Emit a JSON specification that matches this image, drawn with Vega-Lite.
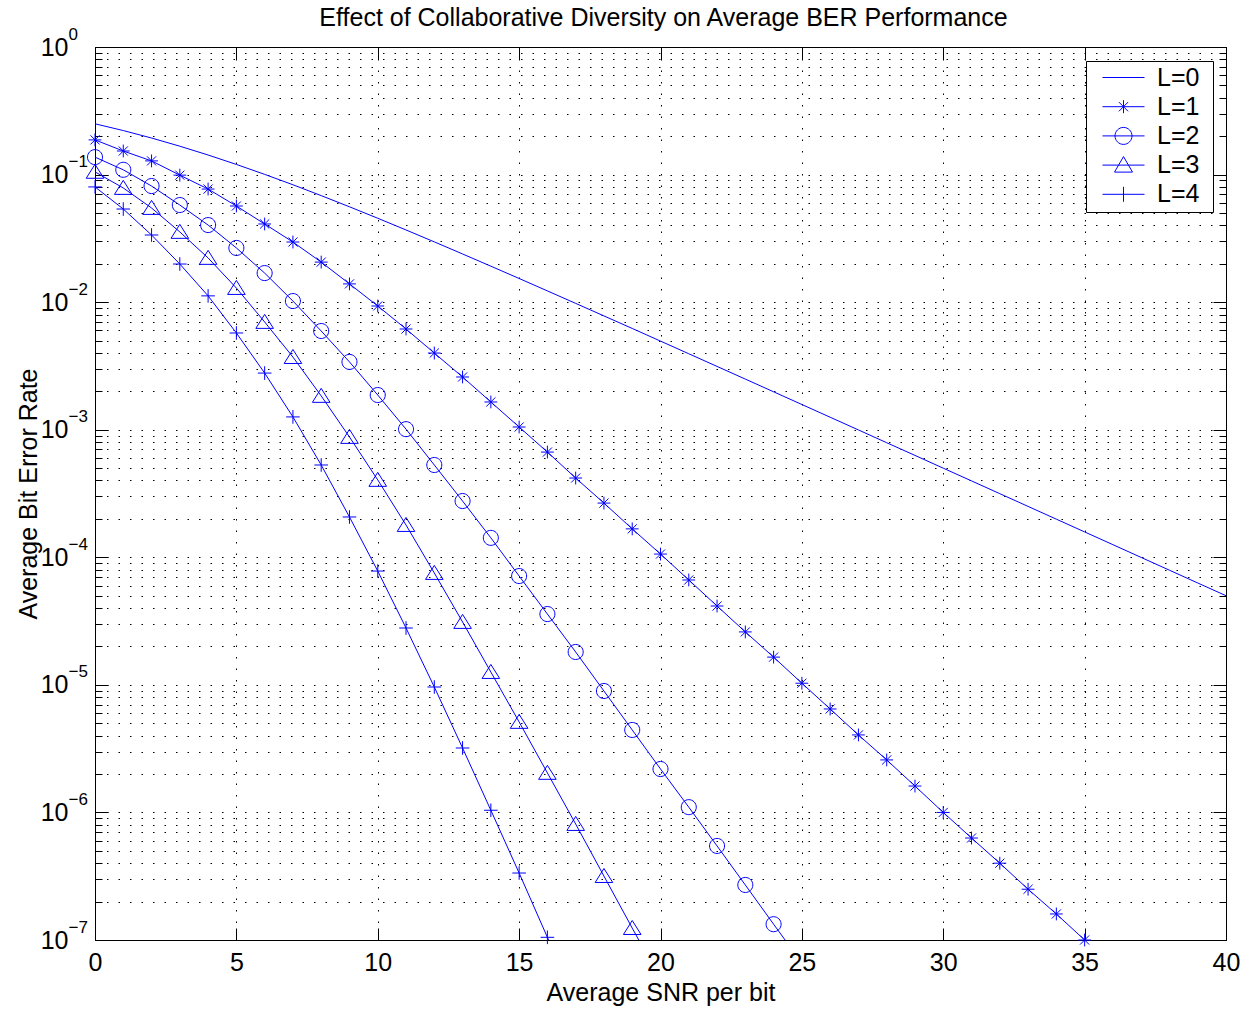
{
  "$schema": "https://vega.github.io/schema/vega-lite/v6.json",
  "width": 1131,
  "height": 893,
  "autosize": {"type": "none"},
  "padding": {"left": 95, "top": 47, "right": 28, "bottom": 69},
  "background": "white",
  "title": {
    "text": "Effect of Collaborative Diversity on Average BER Performance",
    "font": "Liberation Sans",
    "fontSize": 25,
    "fontWeight": "normal",
    "color": "black",
    "frame": "group",
    "offset": -6,
    "dx": 3
  },
  "config": {
    "view": {"stroke": "black", "strokeWidth": 1},
    "axis": {
      "domainColor": "black",
      "domainWidth": 1,
      "tickColor": "black",
      "tickWidth": 1,
      "labelFont": "Liberation Sans",
      "labelFontSize": 25,
      "labelColor": "black",
      "titleFont": "Liberation Sans",
      "titleFontSize": 25,
      "titleFontWeight": "normal",
      "titleColor": "black",
      "gridColor": "black",
      "gridOpacity": 1,
      "gridWidth": 1,
      "gridDash": [1.5, 10]
    }
  },
  "data": {
    "values": [
      {"L": "L=0", "snr": 0, "ber": 0.25},
      {"L": "L=0", "snr": 1, "ber": 0.2213},
      {"L": "L=0", "snr": 2, "ber": 0.1934},
      {"L": "L=0", "snr": 3, "ber": 0.1669},
      {"L": "L=0", "snr": 4, "ber": 0.1424},
      {"L": "L=0", "snr": 5, "ber": 0.1201},
      {"L": "L=0", "snr": 6, "ber": 0.1004},
      {"L": "L=0", "snr": 7, "ber": 0.0832},
      {"L": "L=0", "snr": 8, "ber": 0.0684},
      {"L": "L=0", "snr": 9, "ber": 0.0559},
      {"L": "L=0", "snr": 10, "ber": 0.04545},
      {"L": "L=0", "snr": 11, "ber": 0.0368},
      {"L": "L=0", "snr": 12, "ber": 0.02968},
      {"L": "L=0", "snr": 13, "ber": 0.02386},
      {"L": "L=0", "snr": 14, "ber": 0.01914},
      {"L": "L=0", "snr": 15, "ber": 0.01533},
      {"L": "L=0", "snr": 16, "ber": 0.01225},
      {"L": "L=0", "snr": 17, "ber": 0.00978},
      {"L": "L=0", "snr": 18, "ber": 0.0078},
      {"L": "L=0", "snr": 19, "ber": 0.00622},
      {"L": "L=0", "snr": 20, "ber": 0.00495},
      {"L": "L=0", "snr": 21, "ber": 0.00394},
      {"L": "L=0", "snr": 22, "ber": 0.003135},
      {"L": "L=0", "snr": 23, "ber": 0.002493},
      {"L": "L=0", "snr": 24, "ber": 0.001983},
      {"L": "L=0", "snr": 25, "ber": 0.001576},
      {"L": "L=0", "snr": 26, "ber": 0.001253},
      {"L": "L=0", "snr": 27, "ber": 0.000996},
      {"L": "L=0", "snr": 28, "ber": 0.000791},
      {"L": "L=0", "snr": 29, "ber": 0.000629},
      {"L": "L=0", "snr": 30, "ber": 0.0004995},
      {"L": "L=0", "snr": 31, "ber": 0.000397},
      {"L": "L=0", "snr": 32, "ber": 0.0003153},
      {"L": "L=0", "snr": 33, "ber": 0.0002505},
      {"L": "L=0", "snr": 34, "ber": 0.000199},
      {"L": "L=0", "snr": 35, "ber": 0.0001581},
      {"L": "L=0", "snr": 36, "ber": 0.0001256},
      {"L": "L=0", "snr": 37, "ber": 0.0000997},
      {"L": "L=0", "snr": 38, "ber": 0.0000792},
      {"L": "L=0", "snr": 39, "ber": 0.0000629},
      {"L": "L=0", "snr": 40, "ber": 0.00005},

      {"L": "L=1", "snr": 0, "ber": 0.187},
      {"L": "L=1", "snr": 1, "ber": 0.153},
      {"L": "L=1", "snr": 2, "ber": 0.128},
      {"L": "L=1", "snr": 3, "ber": 0.099},
      {"L": "L=1", "snr": 4, "ber": 0.077},
      {"L": "L=1", "snr": 5, "ber": 0.0567},
      {"L": "L=1", "snr": 6, "ber": 0.041},
      {"L": "L=1", "snr": 7, "ber": 0.0296},
      {"L": "L=1", "snr": 8, "ber": 0.0206},
      {"L": "L=1", "snr": 9, "ber": 0.0139},
      {"L": "L=1", "snr": 10, "ber": 0.00933},
      {"L": "L=1", "snr": 11, "ber": 0.00616},
      {"L": "L=1", "snr": 12, "ber": 0.00399},
      {"L": "L=1", "snr": 13, "ber": 0.00259},
      {"L": "L=1", "snr": 14, "ber": 0.00165},
      {"L": "L=1", "snr": 15, "ber": 0.00105},
      {"L": "L=1", "snr": 16, "ber": 0.000668},
      {"L": "L=1", "snr": 17, "ber": 0.000418},
      {"L": "L=1", "snr": 18, "ber": 0.000266},
      {"L": "L=1", "snr": 19, "ber": 0.000167},
      {"L": "L=1", "snr": 20, "ber": 0.000106},
      {"L": "L=1", "snr": 21, "ber": 0.0000664},
      {"L": "L=1", "snr": 22, "ber": 0.0000415},
      {"L": "L=1", "snr": 23, "ber": 0.000026},
      {"L": "L=1", "snr": 24, "ber": 0.0000165},
      {"L": "L=1", "snr": 25, "ber": 0.0000103},
      {"L": "L=1", "snr": 26, "ber": 0.00000647},
      {"L": "L=1", "snr": 27, "ber": 0.00000405},
      {"L": "L=1", "snr": 28, "ber": 0.00000258},
      {"L": "L=1", "snr": 29, "ber": 0.00000161},
      {"L": "L=1", "snr": 30, "ber": 0.000001},
      {"L": "L=1", "snr": 31, "ber": 0.00000063},
      {"L": "L=1", "snr": 32, "ber": 0.0000004},
      {"L": "L=1", "snr": 33, "ber": 0.00000025},
      {"L": "L=1", "snr": 34, "ber": 0.00000016},
      {"L": "L=1", "snr": 35, "ber": 0.0000001},

      {"L": "L=2", "snr": 0, "ber": 0.137},
      {"L": "L=2", "snr": 1, "ber": 0.109},
      {"L": "L=2", "snr": 2, "ber": 0.0813},
      {"L": "L=2", "snr": 3, "ber": 0.0577},
      {"L": "L=2", "snr": 4, "ber": 0.0402},
      {"L": "L=2", "snr": 5, "ber": 0.0266},
      {"L": "L=2", "snr": 6, "ber": 0.0169},
      {"L": "L=2", "snr": 7, "ber": 0.0102},
      {"L": "L=2", "snr": 8, "ber": 0.00594},
      {"L": "L=2", "snr": 9, "ber": 0.0034},
      {"L": "L=2", "snr": 10, "ber": 0.00187},
      {"L": "L=2", "snr": 11, "ber": 0.00101},
      {"L": "L=2", "snr": 12, "ber": 0.000529},
      {"L": "L=2", "snr": 13, "ber": 0.000276},
      {"L": "L=2", "snr": 14, "ber": 0.000142},
      {"L": "L=2", "snr": 15, "ber": 0.0000713},
      {"L": "L=2", "snr": 16, "ber": 0.0000359},
      {"L": "L=2", "snr": 17, "ber": 0.0000181},
      {"L": "L=2", "snr": 18, "ber": 0.00000895},
      {"L": "L=2", "snr": 19, "ber": 0.00000443},
      {"L": "L=2", "snr": 20, "ber": 0.00000219},
      {"L": "L=2", "snr": 21, "ber": 0.0000011},
      {"L": "L=2", "snr": 22, "ber": 0.000000546},
      {"L": "L=2", "snr": 23, "ber": 0.00000027},
      {"L": "L=2", "snr": 24, "ber": 0.000000133},
      {"L": "L=2", "snr": 25, "ber": 0.000000066},

      {"L": "L=3", "snr": 0, "ber": 0.105},
      {"L": "L=3", "snr": 1, "ber": 0.0785},
      {"L": "L=3", "snr": 2, "ber": 0.0547},
      {"L": "L=3", "snr": 3, "ber": 0.0355},
      {"L": "L=3", "snr": 4, "ber": 0.0222},
      {"L": "L=3", "snr": 5, "ber": 0.0129},
      {"L": "L=3", "snr": 6, "ber": 0.00699},
      {"L": "L=3", "snr": 7, "ber": 0.00371},
      {"L": "L=3", "snr": 8, "ber": 0.00184},
      {"L": "L=3", "snr": 9, "ber": 0.000877},
      {"L": "L=3", "snr": 10, "ber": 0.000404},
      {"L": "L=3", "snr": 11, "ber": 0.000179},
      {"L": "L=3", "snr": 12, "ber": 0.0000753},
      {"L": "L=3", "snr": 13, "ber": 0.0000311},
      {"L": "L=3", "snr": 14, "ber": 0.0000126},
      {"L": "L=3", "snr": 15, "ber": 0.00000512},
      {"L": "L=3", "snr": 16, "ber": 0.00000204},
      {"L": "L=3", "snr": 17, "ber": 0.000000811},
      {"L": "L=3", "snr": 18, "ber": 0.000000317},
      {"L": "L=3", "snr": 19, "ber": 0.000000124},
      {"L": "L=3", "snr": 20, "ber": 0.000000049},

      {"L": "L=4", "snr": 0, "ber": 0.08},
      {"L": "L=4", "snr": 1, "ber": 0.0537},
      {"L": "L=4", "snr": 2, "ber": 0.0336},
      {"L": "L=4", "snr": 3, "ber": 0.0199},
      {"L": "L=4", "snr": 4, "ber": 0.0112},
      {"L": "L=4", "snr": 5, "ber": 0.00573},
      {"L": "L=4", "snr": 6, "ber": 0.00278},
      {"L": "L=4", "snr": 7, "ber": 0.00126},
      {"L": "L=4", "snr": 8, "ber": 0.000529},
      {"L": "L=4", "snr": 9, "ber": 0.000207},
      {"L": "L=4", "snr": 10, "ber": 0.000078},
      {"L": "L=4", "snr": 11, "ber": 0.0000279},
      {"L": "L=4", "snr": 12, "ber": 0.00000962},
      {"L": "L=4", "snr": 13, "ber": 0.0000032},
      {"L": "L=4", "snr": 14, "ber": 0.00000104},
      {"L": "L=4", "snr": 15, "ber": 0.000000335},
      {"L": "L=4", "snr": 16, "ber": 0.000000105},
      {"L": "L=4", "snr": 17, "ber": 0.000000033}
    ]
  },
  "layer": [
    {
      "transform": [{"filter": "datum.L == 'L=0'"}],
      "mark": {"type": "line", "color": "#0000ff", "strokeWidth": 1, "clip": true},
      "encoding": {
        "x": {
          "field": "snr", "type": "quantitative",
          "scale": {"domain": [0, 40], "nice": false, "zero": false},
          "axis": {
            "orient": "bottom",
            "values": [0, 5, 10, 15, 20, 25, 30, 35, 40],
            "title": "Average SNR per bit",
            "grid": true,
            "tickSize": -12,
            "labelPadding": 22,
            "titlePadding": 5,
            "labelFlush": false
          }
        },
        "y": {
          "field": "ber", "type": "quantitative",
          "scale": {"type": "log", "domain": [1e-7, 1], "nice": false},
          "axis": {
            "orient": "left",
            "title": "Average Bit Error Rate",
            "grid": true,
            "values": [1e-7,2e-7,3e-7,4e-7,5e-7,6e-7,7e-7,8e-7,9e-7,1e-6,2e-6,3e-6,4e-6,5e-6,6e-6,7e-6,8e-6,9e-6,1e-5,2e-5,3e-5,4e-5,5e-5,6e-5,7e-5,8e-5,9e-5,1e-4,2e-4,3e-4,4e-4,5e-4,6e-4,7e-4,8e-4,9e-4,0.001,0.002,0.003,0.004,0.005,0.006,0.007,0.008,0.009,0.01,0.02,0.03,0.04,0.05,0.06,0.07,0.08,0.09,0.1,0.2,0.3,0.4,0.5,0.6,0.7,0.8,0.9,1],
            "tickSize": {"condition": {"test": "abs(log(datum.value)/LN10 - round(log(datum.value)/LN10)) < 0.001", "value": -13}, "value": -7},
            "labelExpr": "abs(log(datum.value)/LN10 - round(log(datum.value)/LN10)) < 0.001 ? '10' : ''",
            "labelPadding": 40,
            "labelBaseline": "middle",
            "labelFlush": false,
            "labelOverlap": false,
            "titlePadding": -1
          }
        }
      }
    },
    {
      "transform": [{"filter": "datum.L != 'L=0'"}],
      "mark": {"type": "line", "color": "#0000ff", "strokeWidth": 1, "clip": true},
      "encoding": {
        "x": {
          "field": "snr", "type": "quantitative",
          "axis": {
            "orient": "top",
            "values": [0, 5, 10, 15, 20, 25, 30, 35, 40],
            "title": null,
            "labels": false,
            "grid": false,
            "tickSize": -12
          }
        },
        "y": {
          "field": "ber", "type": "quantitative",
          "axis": {
            "orient": "left",
            "title": null,
            "grid": false,
            "ticks": false,
            "tickSize": 0,
            "domain": false,
            "values": [1e-7,1e-6,1e-5,1e-4,0.001,0.01,0.1,1],
            "labelExpr": "['0','−1','−2','−3','−4','−5','−6','−7'][-round(log(datum.value)/LN10)]",
            "labelFontSize": 17,
            "labelAlign": "left",
            "labelBaseline": "middle",
            "labelPadding": 27,
            "labelOffset": -13,
            "labelFlush": false,
            "labelOverlap": false
          }
        },
        "detail": {"field": "L"},
        "order": {"field": "snr", "type": "quantitative"}
      }
    },
    {
      "transform": [{"filter": "datum.L != 'L=0' && datum.ber >= 9.5e-8"}],
      "mark": {"type": "point", "filled": false, "size": 256, "strokeWidth": 1, "color": "#0000ff", "opacity": 1},
      "encoding": {
        "x": {"field": "snr", "type": "quantitative", "axis": null},
        "y": {
          "field": "ber", "type": "quantitative",
          "axis": {
            "orient": "right",
            "title": null,
            "labels": false,
            "grid": false,
            "values": [1e-7,2e-7,3e-7,4e-7,5e-7,6e-7,7e-7,8e-7,9e-7,1e-6,2e-6,3e-6,4e-6,5e-6,6e-6,7e-6,8e-6,9e-6,1e-5,2e-5,3e-5,4e-5,5e-5,6e-5,7e-5,8e-5,9e-5,1e-4,2e-4,3e-4,4e-4,5e-4,6e-4,7e-4,8e-4,9e-4,0.001,0.002,0.003,0.004,0.005,0.006,0.007,0.008,0.009,0.01,0.02,0.03,0.04,0.05,0.06,0.07,0.08,0.09,0.1,0.2,0.3,0.4,0.5,0.6,0.7,0.8,0.9,1],
            "tickSize": {"condition": {"test": "abs(log(datum.value)/LN10 - round(log(datum.value)/LN10)) < 0.001", "value": -13}, "value": -7}
          }
        },
        "shape": {
          "field": "L", "type": "nominal",
          "scale": {
            "domain": ["L=1", "L=2", "L=3", "L=4"],
            "range": [
              "M0,-0.8V0.8M-0.8,0H0.8M-0.57,-0.57L0.57,0.57M-0.57,0.57L0.57,-0.57",
              "M0.94,0A0.94,0.94,0,1,1,-0.94,0A0.94,0.94,0,1,1,0.94,0Z",
              "M0,-0.95L1.1,0.8L-1.1,0.8Z",
              "M0,-0.85V0.85M-0.85,0H0.85"
            ]
          },
          "legend": null
        }
      }
    },
    {
      "transform": [{"filter": "datum.L == 'none'"}],
      "mark": {"type": "point", "filled": false, "size": 400, "strokeWidth": 1, "color": "#0000ff", "opacity": 1},
      "encoding": {
        "x": {"field": "snr", "type": "quantitative", "axis": null},
        "y": {"field": "ber", "type": "quantitative", "axis": null},
        "shape": {
          "field": "L", "type": "nominal",
          "scale": {
            "domain": ["L=0", "L=1", "L=2", "L=3", "L=4"],
            "range": [
              "M0,0H4.2M10.4,0",
              "M0,0H4.2M2.1,-0.65V0.65M1.64,-0.46L2.56,0.46M1.64,0.46L2.56,-0.46",
              "M0,0H4.2M2.95,0A0.85,0.85,0,1,1,1.25,0A0.85,0.85,0,1,1,2.95,0Z",
              "M0,0H4.2M2.1,-0.85L3,0.7L1.2,0.7Z",
              "M0,0H4.2M2.1,-0.75V0.75"
            ]
          },
          "legend": {
            "title": null,
            "orient": "none",
            "legendX": 991,
            "legendY": 14,
            "padding": 4,
            "strokeColor": "black",
            "fillColor": "white",
            "cornerRadius": 0,
            "labelFont": "Liberation Sans",
            "labelFontSize": 25,
            "labelColor": "black",
            "labelOffset": 42,
            "symbolSize": 400,
            "symbolStrokeWidth": 1,
            "symbolStrokeColor": "#0000ff",
            "symbolFillColor": "transparent",
            "symbolOpacity": 1,
            "rowPadding": 3.2
          }
        }
      }
    }
  ],
  "resolve": {
    "scale": {"shape": "independent"},
    "axis": {"x": "independent", "y": "independent"}
  }
}
